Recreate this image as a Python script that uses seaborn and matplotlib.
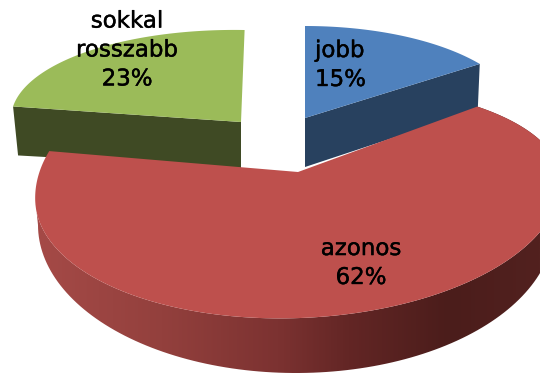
import numpy as np
import matplotlib
matplotlib.use("Agg")
import matplotlib.pyplot as plt
from matplotlib.colors import LinearSegmentedColormap
from matplotlib.patches import Polygon
import matplotlib.patheffects as pe
import seaborn as sns

categories = ["jobb", "azonos", "sokkal\nrosszabb"]
shares = [15, 62, 23]

sns.set_theme(style="white")
plt.rcParams["font.family"] = ["DejaVu Sans"]
top_colors = sns.color_palette(["#4F81BD", "#BE504D", "#9BBB59"])

W, H = 540, 373
DEPTH = 46


def arc(cx, cy, a, b, t0, t1, rot=0.0, n=120):
    """Points on a tilted ellipse; t is degrees clockwise from twelve o'clock."""
    t = np.radians(np.linspace(t0, t1, n))
    u, v = a * np.sin(t), -b * np.cos(t)
    r = np.radians(rot)
    return np.column_stack([cx + u * np.cos(r) + v * np.sin(r),
                            cy - u * np.sin(r) + v * np.cos(r)])


edges = np.concatenate([[0], np.cumsum(shares)]) * 3.6

fig, ax = plt.subplots(figsize=(W / 100, H / 100), dpi=100)
fig.subplots_adjust(0, 0, 1, 1)
ax.set_xlim(0, W)
ax.set_ylim(H, 0)
ax.set_axis_off()
sns.despine(ax=ax, left=True, bottom=True)

# blue slice
blue_arc = arc(305, 118, 216, 92, edges[0], edges[1])
ax.add_patch(Polygon([(305, 118), blue_arc[-1], blue_arc[-1] + (-2, DEPTH),
                      (305, 118 + 49)], fc="#28415F", ec="none", zorder=2))
ax.add_patch(Polygon(np.vstack([[(305, 118)], blue_arc]), fc=top_colors[0],
                     ec="none", zorder=3))

# green slice
green_arc = arc(243, 122, 232, 92, edges[2], edges[3], rot=-1)
ax.add_patch(Polygon([(241, 122), green_arc[0], green_arc[0] + (5, 49),
                      (241, 122 + 46)], fc="#3F4A24", ec="none", zorder=2))
ax.add_patch(Polygon(np.vstack([[(241, 122)], green_arc]), fc=top_colors[2],
                     ec="none", zorder=3))

# red slice: perspective widens the visible sweep and skews its far edge
red_t0, red_t1 = edges[1] - 10, edges[2] + 13
red_arc = np.vstack([
    arc(298, 190, 263, 105, red_t0, 90, rot=2.5),
    arc(298, 190, 263, 128, 90, 270, rot=2.5),
    arc(298, 190, 263, 144, 270, red_t1, rot=2.5),
])
left_idx = int(np.argmin(red_arc[:, 0]))
rim_low = arc(296, 225, 258, 148, 90, 270)
rim = Polygon(np.vstack([rim_low, [red_arc[left_idx]], red_arc[:left_idx + 1][::-1]]),
              fc="none", ec="none", transform=ax.transData)
ax.add_patch(rim)
rim_cmap = LinearSegmentedColormap.from_list(
    "rim", [(0, "#A54A47"), (0.25, "#93403D"), (0.48, "#7C3231"),
            (0.62, "#632625"), (0.82, "#4B1D1B"), (1, "#52211F")])
img = ax.imshow(np.linspace(0, 1, 512)[None, :], cmap=rim_cmap, aspect="auto",
                extent=(36, W, H, 100), zorder=4, interpolation="bilinear")
img.set_clip_path(rim)
ax.set_xlim(0, W)
ax.set_ylim(H, 0)
ax.add_patch(Polygon(np.vstack([[(298, 172)], red_arc]), fc=top_colors[1],
                     ec="none", zorder=5))

# labels
label_font = dict(color="black", fontsize=16.5, linespacing=1.33, zorder=6,
                  path_effects=[pe.withStroke(linewidth=0.3, foreground="black")])
ax.text(315, 65, f"{categories[0]}\n{shares[0]}%", ha="left", va="center", **label_font)
ax.text(361, 263, f"{categories[1]}\n{shares[1]}%", ha="center", va="center", **label_font)
ax.text(127, 50, f"{categories[2]}\n{shares[2]}%", ha="center", va="center", **label_font)

fig.savefig("out.png", dpi=100)
